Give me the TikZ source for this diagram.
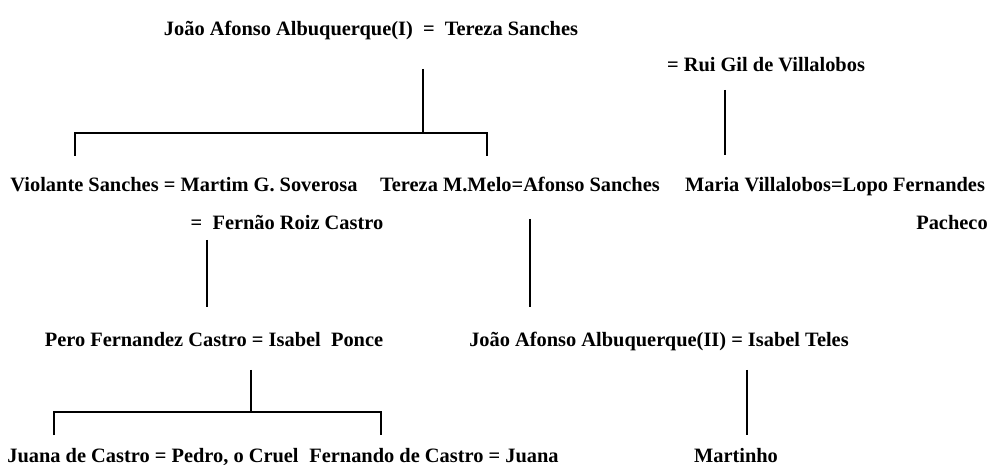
\documentclass[tikz,border=0pt]{standalone}
\usepackage{fontspec}
\setmainfont{Liberation Serif}
\usetikzlibrary{calc}

\tikzset{
    person/.style={anchor=base, inner sep=0pt, font=\fontsize{20.4}{22}\selectfont\bfseries},
    kin/.style={line width=2.6pt}
}

\begin{document}
\begin{tikzpicture}[x=1pt,y=-1pt]
    \useasboundingbox (0,0) rectangle (989,465);
    % couples
    \node[person] (jai)  at (371,36)  {João Afonso Albuquerque(I)\ \ =\ \ Tereza Sanches};
    \node[person] (rgv)  at (766,72)  {= Rui Gil de Villalobos};
    \node[person] (vs)   at (184,192) {Violante Sanches = Martim G. Soverosa};
    \node[person] (tm)   at (520,192) {Tereza M.Melo=Afonso Sanches};
    \node[person] (mv)   at (835,192) {Maria Villalobos=Lopo Fernandes};
    \node[person] (frc)  at (287,230) {=\ \ Fernão Roiz Castro};
    \node[person] (pach) at (952,230) {Pacheco};
    \node[person] (pfc)  at (214,347) {Pero Fernandez Castro = Isabel\ \ Ponce};
    \node[person] (jaii) at (659,347) {João Afonso Albuquerque(II) = Isabel Teles};
    \node[person] (jc)   at (153,462) {Juana de Castro = Pedro, o Cruel};
    \node[person] (fc)   at (434,462) {Fernando de Castro = Juana};
    \node[person] (mart) at (736,462) {Martinho};
    % lines of descent
    \coordinate (t1) at (423,69);  \coordinate (j1) at (423,133);
    \coordinate (c1) at (75,156);  \coordinate (c2) at (487,156);
    \draw[kin] (t1) -- (j1);
    \draw[kin] (c1) |- (j1) -| (c2);
    \coordinate (t2) at (725,90);  \coordinate (c3) at (725,155);
    \draw[kin] (t2) -- (c3);
    \coordinate (t3) at (207,240); \coordinate (c4) at (207,307);
    \draw[kin] (t3) -- (c4);
    \coordinate (t4) at (530,219); \coordinate (c5) at (530,307);
    \draw[kin] (t4) -- (c5);
    \coordinate (t5) at (251,370); \coordinate (j2) at (251,412);
    \coordinate (c6) at (54,435);  \coordinate (c7) at (381,435);
    \draw[kin] (t5) -- (j2);
    \draw[kin] (c6) |- (j2) -| (c7);
    \coordinate (t6) at (747,370); \coordinate (c8) at (747,435);
    \draw[kin] (t6) -- (c8);
\end{tikzpicture}
\end{document}
